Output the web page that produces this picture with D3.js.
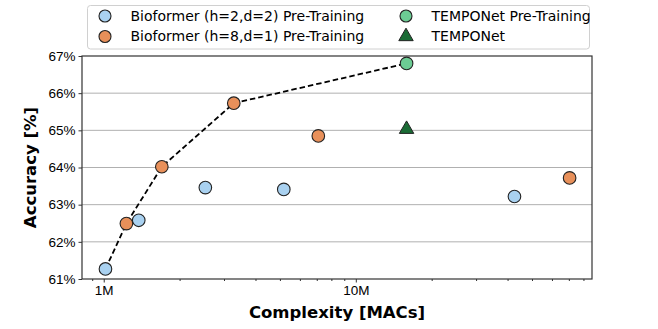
<!DOCTYPE html>
<html>
<head>
<meta charset="utf-8">
<script src="https://cdn.jsdelivr.net/npm/d3@7"></script>
<style>
  body { margin: 0; background: #fff; }
  svg { font-family: "DejaVu Sans", sans-serif; }
</style>
</head>
<body>
<div id="chart"></div>
<script>
// values (MACs in millions, accuracy in %)
const bio22Macs = [1.016, 1.377, 2.53, 5.18, 42.6];
const bio22Acc = [61.27, 62.58, 63.46, 63.41, 63.22];
const bio81Macs = [1.23, 1.70, 3.28, 7.1, 70.5];
const bio81Acc = [62.49, 64.02, 65.73, 64.85, 63.72];
const tempoPreMacs = [15.9];
const tempoPreAcc = [66.80];
const tempoMacs = [15.9];
const tempoAcc = [65.03];
const paretoMacs = [1.016, 1.23, 1.70, 3.28, 15.9];
const paretoAcc = [61.27, 62.49, 64.02, 65.73, 66.80];
const yTicks = [61, 62, 63, 64, 65, 66, 67];
const xTicks = [1, 10];

const width = 658;
const height = 329;
const margin = { top: 56, right: 66, bottom: 50, left: 82 };

const svg = d3
  .select("#chart")
  .append("svg")
  .attr("width", width)
  .attr("height", height);

// Declare the scales.
const x = d3
  .scaleLog()
  .domain([0.82, 86.5])
  .range([margin.left, width - margin.right]);

const y = d3
  .scaleLinear()
  .domain([61, 67])
  .range([height - margin.bottom, margin.top]);

// horizontal grid
svg
  .append("g")
  .selectAll()
  .data(yTicks.slice(1, -1))
  .join("line")
  .attr("x1", margin.left)
  .attr("x2", width - margin.right)
  .attr("y1", (d) => y(d))
  .attr("y2", (d) => y(d))
  .attr("stroke", "#b0b0b0")
  .attr("stroke-width", 1);

// x axis with major + minor ticks
const minor = [];
for (let dec = 0.1; dec <= 100; dec *= 10) {
  for (let k = 2; k <= 9; k++) {
    const v = +(k * dec).toPrecision(3);
    if (v >= x.domain()[0] && v <= x.domain()[1]) minor.push(v);
  }
}
svg
  .append("g")
  .attr("transform", `translate(0,${height - margin.bottom})`)
  .call(
    d3.axisBottom(x).tickValues(xTicks).tickFormat((d) => d + "M").tickSize(3.5).tickPadding(3)
  );
svg
  .append("g")
  .attr("transform", `translate(0,${height - margin.bottom})`)
  .call(d3.axisBottom(x).tickValues(minor).tickFormat("").tickSize(2))
  .call((g) => g.select(".domain").remove());

svg
  .append("g")
  .attr("transform", `translate(${margin.left},0)`)
  .call(d3.axisLeft(y).tickValues(yTicks).tickFormat((d) => d + "%").tickSize(3.5).tickPadding(3));

svg.selectAll(".tick text").attr("font-size", 13.5).attr("fill", "#000");
svg.selectAll(".tick line").attr("stroke", "#333");
svg.selectAll(".domain").remove();

// frame
svg
  .append("rect")
  .attr("x", margin.left)
  .attr("y", margin.top)
  .attr("width", width - margin.left - margin.right)
  .attr("height", height - margin.top - margin.bottom)
  .attr("fill", "none")
  .attr("stroke", "#333")
  .attr("stroke-width", 1.2);

// Pareto front
const line = d3
  .line()
  .x((d) => x(d[0]))
  .y((d) => y(d[1]));
svg
  .append("path")
  .attr("d", line(d3.zip(paretoMacs, paretoAcc)))
  .attr("fill", "none")
  .attr("stroke", "#000")
  .attr("stroke-width", 1.8)
  .attr("stroke-dasharray", "5.5,3");

function dots(macs, acc, color) {
  svg
    .append("g")
    .selectAll()
    .data(d3.zip(macs, acc))
    .join("circle")
    .attr("cx", (d) => x(d[0]))
    .attr("cy", (d) => y(d[1]))
    .attr("r", 6.3)
    .attr("fill", color)
    .attr("stroke", "#222")
    .attr("stroke-width", 1.1);
}
dots(bio22Macs, bio22Acc, "#a9d1f0");
dots(bio81Macs, bio81Acc, "#e8905a");
dots(tempoPreMacs, tempoPreAcc, "#6ccc94");

const tri = d3.symbol().type(d3.symbolTriangle).size(90);
svg
  .append("g")
  .selectAll()
  .data(d3.zip(tempoMacs, tempoAcc))
  .join("path")
  .attr("d", tri)
  .attr("transform", (d) => `translate(${x(d[0])},${y(d[1])})`)
  .attr("fill", "#1a6b35")
  .attr("stroke", "#222")
  .attr("stroke-width", 1);

// axis titles
svg
  .append("text")
  .attr("x", (margin.left + width - margin.right) / 2)
  .attr("y", 318)
  .attr("text-anchor", "middle")
  .attr("font-size", 16.5)
  .attr("font-weight", "bold")
  .text("Complexity [MACs]");
svg
  .append("text")
  .attr("transform", `translate(36,${(margin.top + height - margin.bottom) / 2}) rotate(-90)`)
  .attr("text-anchor", "middle")
  .attr("font-size", 16.5)
  .attr("font-weight", "bold")
  .text("Accuracy [%]");

// legend
const legendItems = [
  { label: "Bioformer (h=2,d=2) Pre-Training", color: "#a9d1f0", shape: "circle" },
  { label: "Bioformer (h=8,d=1) Pre-Training", color: "#e8905a", shape: "circle" },
  { label: "TEMPONet Pre-Training", color: "#6ccc94", shape: "circle" },
  { label: "TEMPONet", color: "#1a6b35", shape: "triangle" },
];
svg
  .append("rect")
  .attr("x", 87.5)
  .attr("y", 5.5)
  .attr("width", 502)
  .attr("height", 43.5)
  .attr("rx", 3)
  .attr("fill", "#fff")
  .attr("stroke", "#d0d0d0");
const leg = svg
  .append("g")
  .selectAll()
  .data(legendItems)
  .join("g")
  .attr("transform", (d, i) => `translate(${i < 2 ? 105 : 406},${i % 2 === 0 ? 16 : 36.5})`);
leg
  .filter((d) => d.shape === "circle")
  .append("circle")
  .attr("r", 6)
  .attr("fill", (d) => d.color)
  .attr("stroke", "#222")
  .attr("stroke-width", 1.1);
leg
  .filter((d) => d.shape === "triangle")
  .append("path")
  .attr("d", tri)
  .attr("fill", (d) => d.color)
  .attr("stroke", "#222");
leg
  .append("text")
  .attr("x", 25.5)
  .attr("dy", "0.35em")
  .attr("font-size", 14)
  .text((d) => d.label);
</script>
</body>
</html>
